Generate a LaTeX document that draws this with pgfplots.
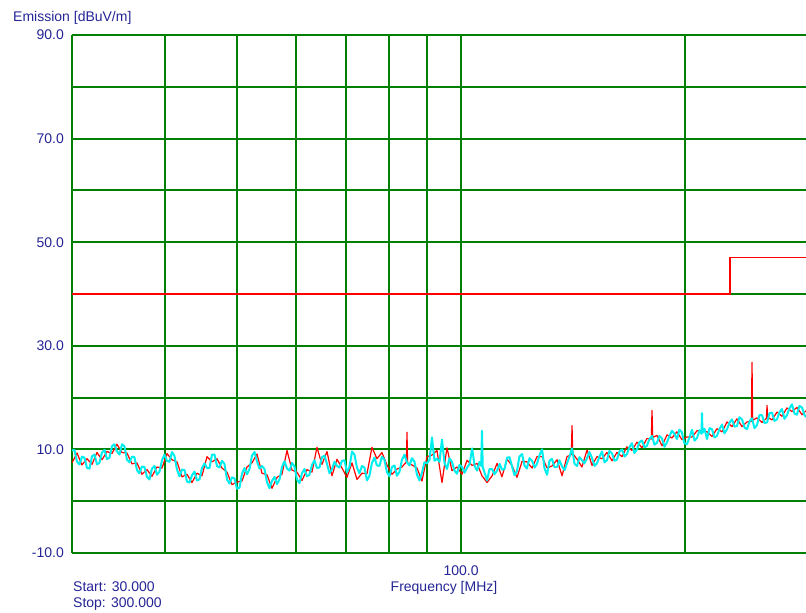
\documentclass[border=0pt]{standalone}
\usepackage{fontspec}
\setmainfont{Liberation Sans}
\usepackage{pgfplots}
\usepackage{pgfplotstable}
\pgfplotsset{compat=1.18}

\definecolor{labelblue}{RGB}{36,36,150}
\definecolor{gridgreen}{RGB}{0,128,0}
\definecolor{tracecyan}{RGB}{0,238,238}

% Peak detector scan (red)
\pgfplotstableread{
f      dB
30.00  7.4
30.47  9.3
30.94  7.0
31.43  8.2
31.92  7.1
32.41  9.4
32.92  8.0
33.43  9.6
33.95  9.2
34.48  11.0
35.02  9.4
35.57  9.3
36.12  7.2
36.68  7.4
37.26  5.2
37.84  6.1
38.43  4.8
39.03  6.6
39.64  6.4
40.25  9.2
40.88  8.0
41.52  7.6
42.17  4.7
42.82  5.2
43.49  3.6
44.17  5.4
44.86  4.9
45.56  8.6
46.27  7.6
46.99  8.2
47.72  6.4
48.47  5.6
49.22  3.2
49.99  3.7
50.77  3.9
51.56  6.6
52.37  7.4
53.18  9.1
54.01  5.4
54.85  5.1
55.71  2.5
56.58  4.6
57.46  5.2
58.36  9.8
59.27  6.0
60.19  5.6
61.13  4.0
62.08  6.1
63.05  5.6
64.03  10.4
65.03  7.1
66.05  9.6
67.08  4.9
68.12  8.1
69.19  6.4
70.26  4.6
71.36  7.4
72.47  4.2
73.60  5.4
74.75  5.3
75.92  10.4
77.10  8.2
78.30  9.4
79.52  7.0
80.76  5.2
82.02  6.2
83.30  6.6
84.45  7.6
84.60  13.3
84.75  7.4
85.92  7.0
87.26  6.4
88.62  3.9
90.00  8.6
91.41  8.9
92.83  9.8
94.28  3.6
95.75  10.3
97.24  5.9
98.76  6.6
100.3  5.2
101.9  7.9
103.5  6.9
105.1  7.3
106.7  4.9
108.4  3.6
110.1  4.9
111.8  7.3
113.5  4.7
115.3  8.1
117.1  6.9
118.9  4.6
120.8  7.7
122.6  7.6
124.6  6.4
126.5  8.6
128.5  8.6
130.5  6.4
132.5  6.8
134.6  8.0
136.7  4.9
138.8  8.6
140.7  9.0
141.0  14.6
141.3  9.2
143.2  8.1
145.4  6.6
147.7  9.9
150.0  6.9
152.3  8.6
154.7  8.2
157.1  9.4
159.6  7.8
162.0  9.4
164.6  8.6
167.1  10.5
169.7  9.8
172.4  11.4
175.1  10.3
177.8  12.1
180.2  12.0
180.6  17.5
181.0  12.3
183.4  12.7
186.3  10.7
189.2  12.8
192.1  12.2
195.1  13.4
198.1  11.9
201.2  12.4
204.4  12.4
207.6  13.6
210.8  13.6
214.1  13.4
217.4  12.5
220.8  14.0
224.3  13.4
227.8  15.3
231.3  14.4
234.9  15.9
238.6  14.4
242.3  15.3
245.6  15.4
246.1  26.8
246.6  15.6
249.9  16.1
253.8  15.2
257.3  16.0
257.8  18.5
258.3  16.2
261.8  15.7
265.9  17.2
270.0  16.4
274.2  18.0
278.5  17.3
282.8  18.1
287.3  16.7
291.7  17.6
296.3  16.6
300.0  17.5
}\peakscan

% Quasi-peak scan (cyan)
\pgfplotstableread{
f      dB
30.00  9.8
30.23  9.9
30.47  7.6
30.71  7.1
30.94  8.6
31.18  8.4
31.43  6.4
31.67  6.3
31.92  8.7
32.17  9.0
32.41  7.1
32.66  7.4
32.92  9.4
33.18  9.9
33.43  8.1
33.69  8.4
33.95  10.6
34.21  11.0
34.48  9.6
34.75  9.0
35.02  11.0
35.29  10.6
35.57  8.0
35.85  7.5
36.12  8.6
36.40  8.5
36.68  6.0
36.96  5.4
37.26  6.7
37.55  6.6
37.84  4.7
38.13  4.2
38.43  6.3
38.73  6.8
39.03  5.1
39.33  5.7
39.64  7.9
39.95  9.0
40.25  7.8
40.56  7.6
40.88  9.5
41.20  8.7
41.52  6.1
41.84  4.8
42.17  6.1
42.50  6.0
42.82  3.8
43.15  3.6
43.49  5.0
43.83  5.7
44.17  4.0
44.51  4.2
44.86  6.4
45.21  7.3
45.56  6.4
45.91  6.4
46.27  9.0
46.63  9.0
46.99  6.8
47.36  6.5
47.72  7.8
48.09  7.2
48.47  4.2
48.85  3.4
49.22  4.6
49.60  4.4
49.99  2.4
50.38  2.6
50.77  5.3
51.16  6.4
51.56  5.2
51.96  6.2
52.37  8.8
52.78  9.5
53.18  7.7
53.59  6.3
54.01  6.8
54.43  6.2
54.85  3.7
55.28  2.5
55.71  3.9
56.14  4.7
56.58  3.3
57.02  4.2
57.46  6.6
57.91  7.7
58.36  6.3
58.81  5.9
59.27  7.4
59.73  6.7
60.19  4.2
60.66  3.5
61.13  5.4
61.60  6.2
62.08  4.8
62.56  5.1
63.05  7.0
63.54  7.9
64.03  6.4
64.53  6.5
65.03  8.5
65.54  8.8
66.05  7.2
66.56  5.4
67.08  6.2
67.60  7.6
68.12  6.8
68.65  6.5
69.19  7.8
69.73  7.9
70.26  5.6
70.81  6.6
71.36  9.6
71.91  9.0
72.47  6.5
73.03  5.4
73.60  6.8
74.17  6.5
74.75  4.0
75.33  4.9
75.92  7.4
76.51  8.4
77.10  6.9
77.70  6.8
78.30  8.6
78.91  8.0
79.52  5.6
80.14  4.8
80.76  6.6
81.39  6.9
82.02  4.9
82.66  5.7
83.30  8.0
83.95  9.0
84.60  7.5
85.26  6.9
85.92  8.3
86.59  7.6
87.26  5.1
87.94  4.0
88.62  5.5
89.31  7.5
90.00  7.3
90.70  8.0
91.41  12.3
92.12  7.8
92.83  8.2
93.55  7.6
94.28  11.9
95.01  7.4
95.75  6.2
96.49  8.3
97.24  7.6
98.00  5.9
98.76  5.3
99.53  7.0
100.3  6.6
101.1  5.5
101.9  6.5
102.7  7.2
103.5  10.2
104.3  6.8
105.1  5.9
105.9  7.6
106.45 6.8
106.7  13.6
106.95 6.6
108.4  4.0
109.2  6.2
110.1  6.2
110.9  5.2
111.8  5.9
112.7  7.2
113.5  6.1
114.4  6.2
115.3  8.4
116.2  8.5
117.1  6.7
118.0  5.0
118.9  5.8
119.8  8.6
120.8  9.1
121.7  6.9
122.6  6.3
123.6  8.3
124.6  7.8
125.6  6.5
126.5  7.2
127.5  8.9
128.5  10.0
129.5  6.3
130.5  5.1
131.5  7.8
132.5  8.2
133.5  6.6
134.6  6.6
135.6  7.9
136.7  6.7
137.8  6.0
138.8  7.3
139.9  8.6
141.0  10.2
142.1  7.2
143.2  6.8
144.3  8.5
145.4  7.9
146.5  7.3
147.7  8.3
148.8  9.5
150.0  8.3
151.2  6.8
152.3  7.3
153.5  8.6
154.7  9.6
155.9  7.5
157.1  7.9
158.3  9.7
159.6  9.2
160.8  7.8
162.0  8.0
163.3  9.6
164.6  10.0
165.9  8.6
167.1  9.1
168.4  10.4
169.7  11.2
171.0  9.3
172.4  10.0
173.7  11.4
175.1  11.7
176.5  10.4
177.8  10.7
179.2  12.0
180.6  12.6
182.0  10.9
183.4  11.3
184.8  12.6
186.3  12.1
187.7  10.5
189.2  11.4
190.7  12.6
192.1  13.6
193.6  13.0
195.1  12.0
196.6  13.8
198.1  13.3
199.6  11.2
201.2  11.0
202.8  12.3
204.4  13.8
206.0  11.7
207.6  12.2
209.2  13.7
210.45 13.0
210.8  17.0
211.15 13.2
212.4  14.0
214.1  12.0
215.8  14.1
217.4  13.9
219.1  12.3
220.8  12.6
222.5  13.9
224.3  14.8
226.0  13.1
227.8  13.9
229.6  15.2
231.3  15.8
233.1  14.4
234.9  14.5
236.7  16.2
238.6  15.8
240.5  14.2
242.3  13.9
244.2  15.4
246.1  16.0
248.0  14.1
249.9  14.7
251.8  16.6
253.8  16.6
255.8  15.1
257.8  15.2
259.8  17.0
261.8  17.1
263.8  15.5
265.9  15.8
268.0  17.2
270.0  17.8
272.1  15.9
274.2  16.6
276.3  17.9
278.5  18.7
280.7  16.9
282.8  16.7
285.0  18.4
287.3  18.1
289.5  16.6
291.7  16.2
294.0  17.9
296.3  18.0
298.6  16.0
300.0  16.5
}\qpscan

\begin{document}
\fontsize{14}{16}\selectfont
\begin{tikzpicture}
\begin{axis}[
  set layers=standard,
  at={(0,0)}, anchor=south west,
  scale only axis, width=744pt, height=518pt,
  xmode=log, xmin=30, xmax=300, ymin=-10, ymax=90,
  xtick={30,40,50,60,70,80,90,100,200,300},
  xticklabels={,,,,,,,100.0,,},
  ytick={-10,0,...,90},
  yticklabels={-10.0,,10.0,,30.0,,50.0,,70.0,,90.0},
  minor tick num=0,
  grid=major,
  major grid style={gridgreen, line width=1.9pt},
  axis line style={draw=none},
  tick style={draw=none},
  major tick length=0pt,
  tick label style={text=labelblue, font=\fontsize{14}{16}\selectfont},
  yticklabel style={anchor=east, inner sep=0pt, xshift=-8pt},
  xticklabel style={anchor=north, inner sep=0pt, yshift=-13pt},
  xlabel={Frequency [MHz]},
  xlabel style={at={(axis description cs:0.5,0)}, anchor=base, yshift=-38pt,
                text=labelblue, inner sep=0pt},
  title={Emission [dBuV/m]},
  title style={at={(axis description cs:0,1)}, anchor=base west,
               xshift=-59pt, yshift=7pt, text=labelblue, inner sep=0pt},
]
% limit line
\addplot[red, line width=1.5pt] coordinates {(30,40) (230,40) (230,47) (300,47)};
% measured traces
\addplot[red, line width=1.2pt, line join=round] table[x=f, y=dB] {\peakscan};
\addplot[tracecyan, line width=2pt, line join=round] table[x=f, y=dB] {\qpscan};
\end{axis}
% scan range
\node[anchor=base west, inner sep=0pt, text=labelblue] at (1pt,-38.7pt) {Start: 30.000};
\node[anchor=base west, inner sep=0pt, text=labelblue] at (1pt,-54.8pt) {Stop: 300.000};
\pgfresetboundingbox
\useasboundingbox (-72pt,-60pt) rectangle (734pt,553pt);
\end{tikzpicture}
\end{document}
